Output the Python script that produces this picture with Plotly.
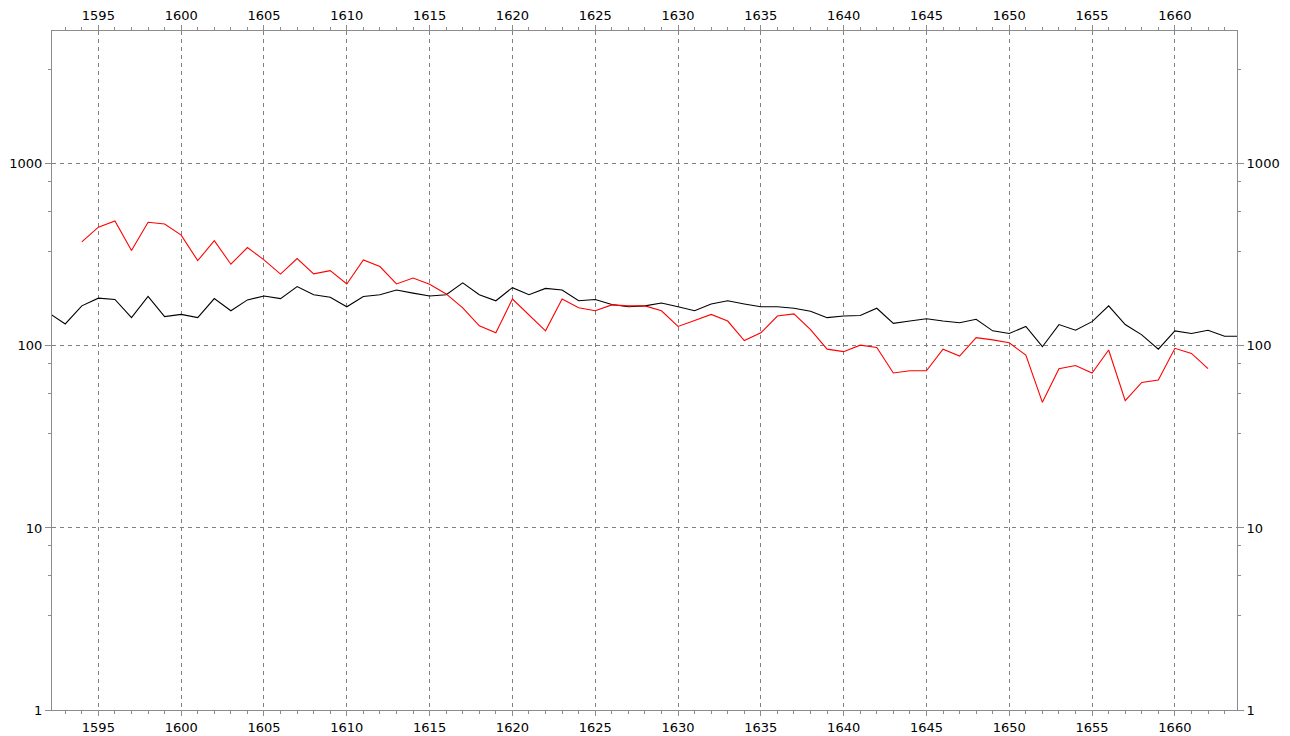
import plotly.graph_objects as go

# ---- data ----
black_start = 1592
black_values = [152, 132, 166, 183, 180, 143, 187, 145, 149, 143,
                182, 156, 179, 188, 182, 212, 191, 185, 164, 187,
                191, 203, 195, 188, 191, 222, 191, 177, 209, 191,
                207, 203, 177, 180, 169, 164, 166, 172, 164, 156,
                170, 177, 170, 164, 164, 161, 155, 143, 146, 147,
                161, 133, 137, 141, 137, 134, 140, 121, 117, 128,
                99, 131, 122, 136, 166, 131, 115, 96, 121, 117,
                122, 113, 113]
black_years = list(range(black_start, black_start + len(black_values)))

red_start = 1594
red_values = [373, 449, 486, 334, 478, 468, 406, 294, 379, 281,
              347, 297, 248, 302, 249, 259, 219, 297, 273, 219,
              236, 218, 193, 162, 129, 118, 181, 148, 121, 181,
              162, 156, 168, 166, 166, 156, 128, 138, 149, 137,
              107, 118, 146, 150, 123, 96, 93, 101, 98, 71,
              73, 73, 96, 88, 111, 108, 104, 89, 49, 75,
              78, 71, 95, 50, 63, 65, 97, 91, 75]
red_years = list(range(red_start, red_start + len(red_values)))

x_ticks = list(range(1595, 1661, 5))
x_minor = list(range(1593, 1664))
y_ticks = [1, 10, 100, 1000]
y_ticktext = ["1", "10", "100", "1000"]
y_minor = [m * d for d in (1, 10, 100, 1000) for m in (3.3, 5.5, 8)]

x_range = [1592.2, 1663.75]
y_range = [0, 3.73]

AXIS = "#8c8c8c"
GRID = "#808080"
FONT = dict(family="DejaVu Sans", size=13, color="black")

fig = go.Figure()
fig.add_trace(go.Scatter(x=black_years, y=black_values, mode="lines",
                         line=dict(color="black", width=1.1), showlegend=False,
                         hoverinfo="skip"))
fig.add_trace(go.Scatter(x=red_years, y=red_values, mode="lines",
                         line=dict(color="#ff0000", width=1.1), showlegend=False,
                         hoverinfo="skip"))
# invisible trace to anchor mirrored axes
fig.add_trace(go.Scatter(x=[x_range[0]], y=[100], xaxis="x2", yaxis="y2",
                         mode="markers", marker=dict(opacity=0), showlegend=False,
                         hoverinfo="skip"))

common_x = dict(range=x_range, tickmode="array", tickvals=x_ticks,
                ticktext=[str(t) for t in x_ticks], ticks="outside", ticklen=5,
                tickcolor=AXIS, tickwidth=1, showline=True, linecolor=AXIS,
                linewidth=1, zeroline=False, tickfont=FONT, automargin=False,
                minor=dict(tickmode="array", tickvals=x_minor, ticks="outside",
                           ticklen=3, tickcolor=AXIS, showgrid=False))
common_y = dict(type="log", range=y_range, tickmode="array", tickvals=y_ticks,
                ticktext=y_ticktext, ticks="outside", ticklen=6, tickcolor=AXIS,
                tickwidth=1, showline=True, linecolor=AXIS, linewidth=1,
                zeroline=False, tickfont=FONT, automargin=False,
                minor=dict(tickmode="array", tickvals=y_minor, ticks="outside",
                           ticklen=3, tickcolor=AXIS, showgrid=False))

# the page body adds an 8px offset; size the figure to compensate
fig.update_layout(
    width=1282, height=728,
    margin=dict(l=44, r=53, t=23, b=26),
    paper_bgcolor="white", plot_bgcolor="white",
    font=FONT,
    xaxis=dict(**common_x, side="bottom", showgrid=True, gridcolor=GRID,
               gridwidth=1, griddash="4px,4px"),
    yaxis=dict(**common_y, side="left", showgrid=True, gridcolor=GRID,
               gridwidth=1, griddash="4px,4px"),
    xaxis2=dict(**common_x, side="top", overlaying="x", showgrid=False),
    yaxis2=dict(**common_y, side="right", overlaying="y", showgrid=False),
)

fig.write_html("out.html")
